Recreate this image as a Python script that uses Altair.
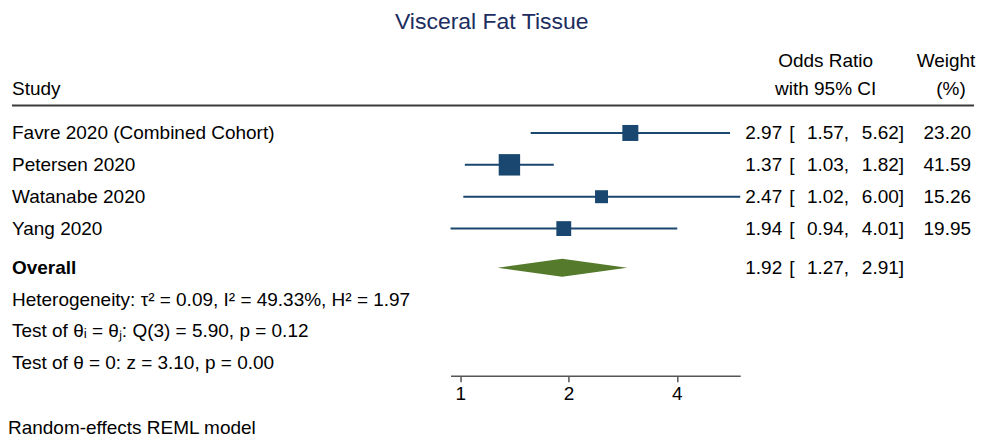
import altair as alt
import pandas as pd

# ---------------- data ----------------
chart_title = "Visceral Fat Tissue"
studies = ["Favre 2020 (Combined Cohort)", "Petersen 2020", "Watanabe 2020", "Yang 2020"]
or_est = [2.97, 1.37, 2.47, 1.94]
ci_low = [1.57, 1.03, 1.02, 0.94]
ci_high = [5.62, 1.82, 6.00, 4.01]
weights = [23.20, 41.59, 15.26, 19.95]
overall_label = "Overall"
overall_est = [1.92]
overall_low = [1.27]
overall_high = [2.91]
stat_lines = [
    "Heterogeneity: τ² = 0.09, I² = 49.33%, H² = 1.97",
    "Test of θᵢ = θⱼ: Q(3) = 5.90, p = 0.12",
    "Test of θ = 0: z = 3.10, p = 0.00",
]
x_ticks = [1, 2, 4]
header_study = "Study"
header_or = ["Odds Ratio", "with 95% CI"]
header_w = ["Weight", "(%)"]
footer = "Random-effects REML model"

# ---------------- layout ----------------
FONT = "Liberation Sans"
FS = 19
NAVY = "#1a476f"
GREEN = "#557a2c"
ROW_PX = 31.9
TOP_ROW = -2.88
LEFT_W, MID_W, RIGHT_W = 443, 290, 235
LEFT_H, MID_H = 395, 335

n = len(studies)
study_rows = list(range(n))
overall_row = n - 1 + 1.23
stat_rows = [overall_row + 1 + i for i in range(len(stat_lines))]
h1_row, h2_row, sep_row = -2.25, -1.37, -0.86
footer_row = 9.25


def yenc(height, field="row"):
    return alt.Y(f"{field}:Q",
                 scale=alt.Scale(domain=[TOP_ROW, TOP_ROW + height / ROW_PX],
                                 reverse=True, nice=False, zero=False),
                 axis=None)


df = pd.DataFrame({"study": studies, "est": or_est, "lo": ci_low,
                   "hi": ci_high, "w": weights, "row": study_rows})

# ---------------- left panel ----------------
left_text = pd.DataFrame({
    "t": [header_study] + studies + stat_lines,
    "row": [h2_row] + study_rows + stat_rows,
})
left_base = alt.Chart(left_text).mark_text(align="left", baseline="middle").encode(
    x=alt.value(4), y=yenc(LEFT_H), text="t:N")
left_bold = alt.Chart(pd.DataFrame({"t": [overall_label], "row": [overall_row]})).mark_text(
    align="left", baseline="middle", fontWeight="bold").encode(
    x=alt.value(4), y=yenc(LEFT_H), text="t:N")
left_footer = alt.Chart(pd.DataFrame({"t": [footer], "row": [footer_row]})).mark_text(
    align="left", baseline="middle").encode(x=alt.value(0), y=yenc(LEFT_H), text="t:N")
sep = alt.Chart(pd.DataFrame({"row": [sep_row]})).mark_rule(
    color="#3a3a3a", strokeWidth=2).encode(
    x=alt.value(4), x2=alt.value(LEFT_W + MID_W + RIGHT_W - 1), y=yenc(LEFT_H))
left = alt.layer(sep, left_base, left_bold, left_footer).properties(width=LEFT_W, height=LEFT_H)

# ---------------- middle (forest) panel ----------------
xscale = alt.Scale(type="log", base=2, domain=[min(ci_low), max(ci_high)], nice=False, zero=False)
xaxis = alt.Axis(values=x_ticks, format="~g", title=None, grid=False, labelFontSize=FS,
                 labelFont=FONT, labelColor="#000", domainColor="#555", tickColor="#555",
                 domainWidth=1.5, tickWidth=1.5, tickSize=6, labelPadding=3, labelFlush=False)
ci = alt.Chart(df).mark_rule(color=NAVY, strokeWidth=2).encode(
    x=alt.X("lo:Q", scale=xscale, axis=xaxis), x2="hi:Q", y=yenc(MID_H))
sq = alt.Chart(df).mark_square(color=NAVY, opacity=1).encode(
    x=alt.X("est:Q", scale=xscale), y=yenc(MID_H),
    size=alt.Size("w:Q", scale=alt.Scale(domain=[0, max(weights)], range=[0, 460]), legend=None))
DH = 9 / ROW_PX
diamond_df = pd.DataFrame({
    "x": [overall_low[0], overall_est[0], overall_high[0]],
    "row": [overall_row, overall_row - DH, overall_row],
    "row2": [overall_row, overall_row + DH, overall_row],
})
diamond = alt.Chart(diamond_df).mark_area(color=GREEN, opacity=1).encode(
    x=alt.X("x:Q", scale=xscale), y=yenc(MID_H), y2="row2:Q")
mid = alt.layer(ci, diamond, sq).properties(width=MID_W, height=MID_H)

# ---------------- right panel ----------------
stats = pd.DataFrame({
    "est": [f"{v:.2f}" for v in or_est + overall_est],
    "br": ["["] * (n + 1),
    "lo": [f"{v:.2f}," for v in ci_low + overall_low],
    "hi": [f"{v:.2f}]" for v in ci_high + overall_high],
    "w": [f"{v:.2f}" for v in weights] + [""],
    "row": study_rows + [overall_row],
})
rbase = alt.Chart(stats)
r_est = rbase.mark_text(align="right", baseline="middle").encode(x=alt.value(42), y=yenc(MID_H), text="est:N")
r_br = rbase.mark_text(align="left", baseline="middle").encode(x=alt.value(49), y=yenc(MID_H), text="br:N")
r_lo = rbase.mark_text(align="right", baseline="middle").encode(x=alt.value(109), y=yenc(MID_H), text="lo:N")
r_hi = rbase.mark_text(align="right", baseline="middle").encode(x=alt.value(164), y=yenc(MID_H), text="hi:N")
r_w = rbase.mark_text(align="right", baseline="middle").encode(x=alt.value(231), y=yenc(MID_H), text="w:N")
hdr_or = alt.Chart(pd.DataFrame({"t": header_or, "row": [h1_row, h2_row]})).mark_text(
    align="center", baseline="middle").encode(x=alt.value(85.5), y=yenc(MID_H), text="t:N")
hdr_w = alt.Chart(pd.DataFrame({"t": header_w, "row": [h1_row, h2_row], "xo": [206, 211]})).mark_text(
    align="center", baseline="middle").encode(x=alt.X("xo:Q", scale=alt.Scale(domain=[0, RIGHT_W]), axis=None),
                                              y=yenc(MID_H), text="t:N")
right = alt.layer(hdr_or, hdr_w, r_est, r_br, r_lo, r_hi, r_w).properties(width=RIGHT_W, height=MID_H)

chart = alt.hconcat(left, mid, right, spacing=0, bounds="flush").properties(
    title=alt.TitleParams(chart_title, fontSize=23, fontWeight="normal", color="#1c2d5e",
                          anchor="middle", offset=7, font=FONT),
    padding={"top": 3, "left": 0, "right": 0, "bottom": 0},
).configure_view(stroke=None).configure_text(font=FONT, fontSize=FS, color="#000")

chart.save("out.html", embed_options={"renderer": "svg", "actions": False})
